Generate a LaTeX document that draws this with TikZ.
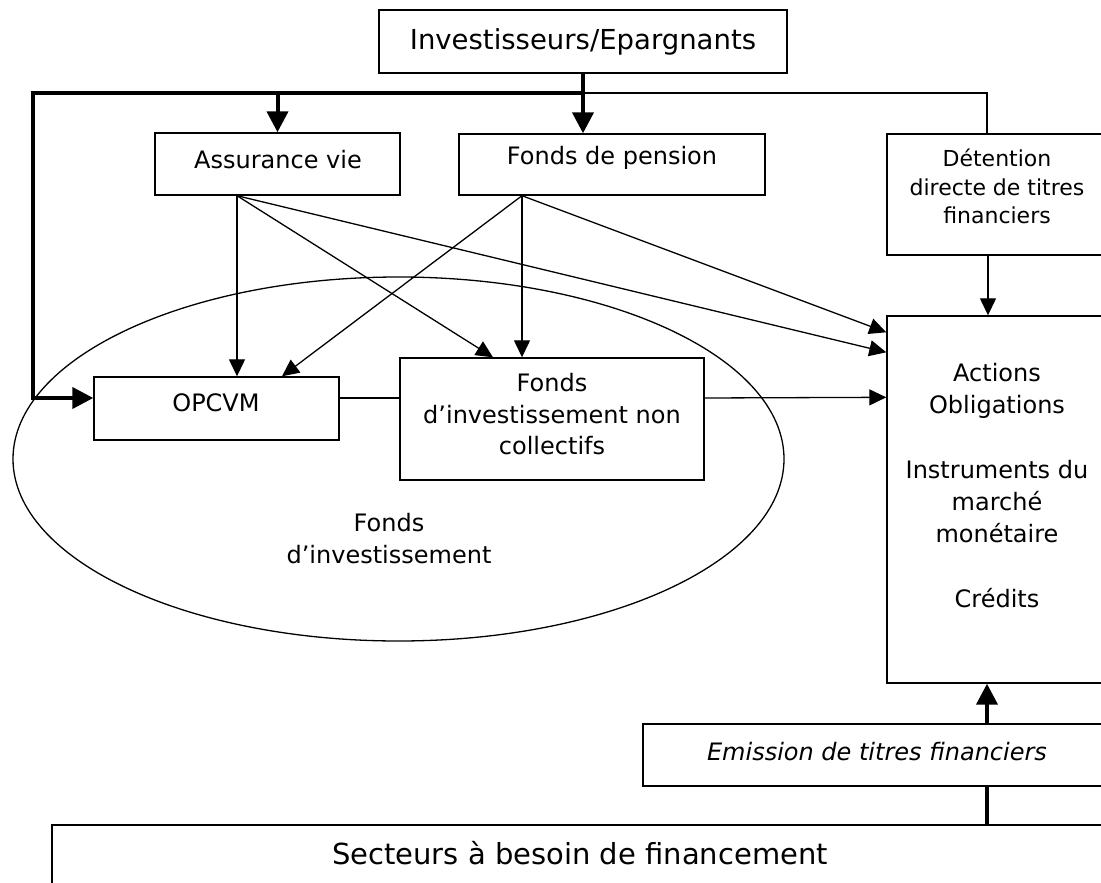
\documentclass[tikz,border=0pt]{standalone}
\usepackage{fontspec}
\setmainfont{DejaVu Sans}
\usetikzlibrary{arrows.meta,shapes.geometric,calc}
\begin{document}
\begin{tikzpicture}[x=1pt,y=-1pt,
  box/.style={draw, line width=1.4pt, fill=white, rectangle, inner sep=0pt},
  txt/.style={font=\fontsize{24}{32}\selectfont, align=center, inner sep=0pt},
  arr/.style={line width=1.3pt, -{Triangle[length=17pt,width=16pt]}},
  ln/.style={line width=1.3pt},
  tk/.style={line width=4pt},
  tkarr/.style={line width=4pt, -{Triangle[length=21pt,width=21pt]}}
]
\useasboundingbox (0,0) rectangle (1101,883);
\fill[white] (0,0) rectangle (1101,883);
\clip (0,0) rectangle (1101,883);

% ellipse (fonds d'investissement)
\node[draw, ellipse, line width=1.3pt, minimum width=771pt, minimum height=364pt, inner sep=0pt] (ell) at (398.5,459) {};
\node[txt] (tell) at (389,539) {Fonds\\d’investissement};

% boxes
\node[box, minimum width=408pt, minimum height=63pt] (inv) at (583,41.5) {};
\node[box, minimum width=245pt, minimum height=62pt] (av) at (277.5,164) {};
\node[box, minimum width=306pt, minimum height=61pt] (fp) at (612,164.5) {};
\node[box, minimum width=220pt, minimum height=121pt] (det) at (997,194.5) {};
\node[box, minimum width=220pt, minimum height=367pt] (act) at (997,499.5) {};
\node[box, minimum width=245pt, minimum height=63pt] (opc) at (216.5,408.5) {};
\node[box, minimum width=304pt, minimum height=122pt] (fnc) at (552,419) {};
\node[box, minimum width=468pt, minimum height=62pt] (emi) at (877,755) {};
\node[box, minimum width=1058pt, minimum height=90pt] (sec) at (581,870) {};

% texts
\node[txt, font=\fontsize{27.5}{33}\selectfont] (tinv) at (583,42) {Investisseurs/Epargnants};
\node[txt] (tav) at (278,160) {Assurance vie};
\node[txt] (tfp) at (612,158) {Fonds de pension};
\node[txt, font=\fontsize{22}{28.5}\selectfont] (tdet) at (997,186.5) {Détention\\directe de titres\\financiers};
\node[txt, font=\fontsize{24}{32.3}\selectfont] (tact) at (997,485.5) {Actions\\Obligations\\[32.3pt]Instruments du\\marché\\monétaire\\[32.3pt]Crédits};
\node[txt] (topc) at (216,403) {OPCVM};
\node[txt, font=\fontsize{24}{31.5}\selectfont] (tfnc) at (552,414.5) {Fonds\\d’investissement non\\collectifs};
\node[txt, font=\fontsize{24}{29}\selectfont\itshape] (temi) at (877,752) {Emission de titres financiers};
\node[txt, font=\fontsize{29}{35}\selectfont] (tsec) at (580,853) {Secteurs à besoin de financement};

% junctions and outlets
\coordinate (jc) at (583,93);
\coordinate (jl) at (33,93);
\coordinate (jr) at (987,93);
\coordinate (jb) at (33,398);
\coordinate (aout) at ([xshift=-40.5pt]av.south);
\coordinate (fout) at ([xshift=-90pt]fp.south);

% thick connectors from investors
\draw[tkarr] (inv.south) -- (fp.north -| jc);
\draw[tkarr] (jc) -- (jl) -- (jb) -- (opc.west |- jb);
\draw[tkarr] (av.north |- jc) -- (av.north);
\draw[ln] (jc) -- (jr) -- (det.north -| jr);

% detention -> actions
\draw[arr] ([xshift=-9pt]det.south) -- ([xshift=-9pt]act.north);

% assurance vie
\draw[arr] (aout) -- (opc.north -| aout);
\draw[arr] (aout) -- ([xshift=-59pt]fnc.north);
\draw[arr] (aout) -- ([yshift=-37pt]act.north west);

% fonds de pension
\draw[arr] (fout) -- (fnc.north -| fout);
\draw[arr] (fout) -- ([xshift=65.5pt]opc.north);
\draw[arr] (fout) -- ([yshift=-17pt]act.north west);

% OPCVM -- fonds non collectifs -> actions
\draw[ln] ([yshift=10.5pt]opc.east) -- ([yshift=21pt]fnc.west);
\draw[arr] ([yshift=21pt]fnc.east) -- ([yshift=-82pt]act.north west);

% emission
\draw[tkarr] ([xshift=110pt]emi.north) -- ([xshift=-10pt]act.south);
\draw[tk] ([xshift=406pt]sec.north) -- ([xshift=110pt]emi.south);
\end{tikzpicture}
\end{document}
